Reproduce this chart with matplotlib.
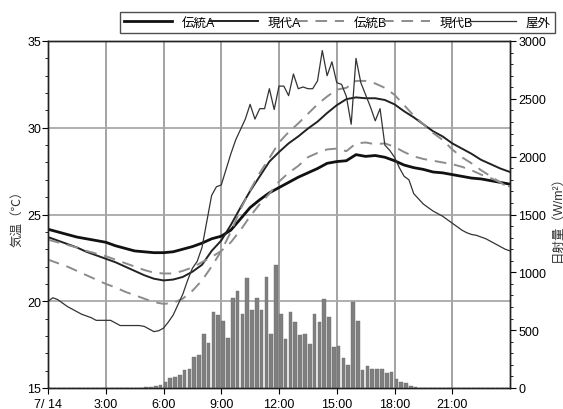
import matplotlib
matplotlib.use("Agg")
import matplotlib.pyplot as plt
import numpy as np
from matplotlib.ticker import MultipleLocator

plt.rcParams['font.family'] = ['Liberation Sans', 'Noto Sans CJK JP', 'DejaVu Sans']

# ---------------- data ----------------
# half-hourly room temperatures (hours 0..24)
hours_half = [i * 0.5 for i in range(49)]
dentou_a = [24.15, 24.0, 23.85, 23.7, 23.6, 23.5, 23.4, 23.2, 23.05, 22.9, 22.85, 22.8, 22.8,
            22.85, 23.0, 23.15, 23.35, 23.6, 23.75, 24.1, 24.75, 25.4, 25.85, 26.25, 26.55, 26.85,
            27.15, 27.4, 27.65, 27.95, 28.05, 28.1, 28.45, 28.35, 28.4, 28.3, 28.1, 27.85, 27.7,
            27.6, 27.45, 27.4, 27.3, 27.2, 27.1, 27.05, 26.95, 26.85, 26.75]
gendai_a = [23.7, 23.5, 23.3, 23.1, 22.85, 22.65, 22.45, 22.25, 22.0, 21.75, 21.5, 21.3, 21.2,
            21.25, 21.4, 21.7, 22.1, 22.9, 23.5, 24.4, 25.4, 26.35, 27.2, 28.05, 28.6, 29.1,
            29.5, 29.95, 30.35, 30.85, 31.3, 31.65, 31.75, 31.7, 31.7, 31.6, 31.35, 30.95, 30.6,
            30.2, 29.8, 29.5, 29.1, 28.8, 28.5, 28.15, 27.9, 27.65, 27.45]
dentou_b = [23.55, 23.4, 23.25, 23.1, 22.9, 22.75, 22.6, 22.4, 22.2, 22.0, 21.8, 21.65, 21.6,
            21.6, 21.75, 21.95, 22.25, 22.55, 22.9, 23.4, 24.1, 24.9, 25.6, 26.2, 26.9, 27.4,
            27.8, 28.3, 28.55, 28.75, 28.8, 28.65, 29.1, 29.15, 29.05, 29.1, 28.9, 28.6, 28.35,
            28.2, 28.1, 28.0, 27.9, 27.75, 27.55, 27.3, 27.1, 26.85, 26.6]
gendai_b = [22.4, 22.2, 22.0, 21.75, 21.5, 21.25, 21.0, 20.8, 20.55, 20.35, 20.15, 19.95, 19.85,
            19.9, 20.15, 20.6, 21.2, 22.0, 22.9, 24.0, 25.3, 26.4, 27.4, 28.25, 29.15, 29.75,
            30.25, 30.8, 31.35, 31.8, 32.2, 32.3, 32.7, 32.7, 32.55, 32.3, 31.9, 31.3, 30.7,
            30.2, 29.7, 29.3, 28.75, 28.3, 27.95, 27.55, 27.2, 26.85, 26.5]

# 15-minute outdoor temperature (hours 0..24)
hours_q = [i * 0.25 for i in range(97)]
outdoor = [20.0, 20.2, 20.1, 19.9, 19.7, 19.55, 19.4, 19.25, 19.15, 19.05, 18.9, 18.9, 18.9,
           18.9, 18.75, 18.6, 18.6, 18.6, 18.6, 18.6, 18.55, 18.4, 18.25, 18.3, 18.45, 18.8,
           19.2, 19.8, 20.4, 21.2, 21.9, 22.3, 23.1, 24.6, 26.1, 26.6, 26.7, 27.6, 28.5, 29.3,
           29.9, 30.5, 31.35, 30.5, 31.1, 31.1, 32.25, 31.05, 32.4, 32.4, 31.85, 33.1, 32.25,
           32.35, 32.25, 32.25, 32.7, 34.45, 33.0, 33.8, 32.6, 32.5, 31.8, 30.2, 34.0, 32.6,
           31.9, 31.2, 30.4, 31.1, 29.0, 28.7, 28.3, 27.7, 27.2, 27.0, 26.2, 25.9, 25.6, 25.4,
           25.2, 25.05, 24.9, 24.7, 24.5, 24.3, 24.1, 23.95, 23.85, 23.8, 23.7, 23.6, 23.45,
           23.3, 23.15, 23.0, 22.9]

# 15-minute solar radiation (interval start hours 0..23.75)
bar_start = [i * 0.25 for i in range(96)]
radiation = ([0] * 19 +
             [2, 5, 10, 15, 25,
              50, 84, 98, 112, 159, 160, 265, 286, 467, 386, 661, 633, 581, 432, 776, 836,
              640, 952, 675, 782, 678, 963, 467, 1065, 643, 424, 661, 568, 460, 470, 380, 643,
              568, 767, 618, 352, 366, 256, 199, 741, 580, 153, 187, 164, 164, 164, 129, 136,
              75, 50, 40, 20, 8, 3] +
             [0] * 18)

x_ticks = [0, 3, 6, 9, 12, 15, 18, 21]
x_labels = ['7/ 14', '3:00', '6:00', '9:00', '12:00', '15:00', '18:00', '21:00']
series_names = ['伝統A', '現代A', '伝統B', '現代B', '屋外']

# ---------------- figure ----------------
fig = plt.figure(figsize=(5.63, 4.10), dpi=100)
ax = fig.add_axes([48 / 563, 1 - 389 / 410, (510 - 48) / 563, (389 - 42) / 410])
ax_r = ax.twinx()

ax.set_xlim(0, 24)
ax.set_ylim(15, 35)
ax_r.set_ylim(0, 3000)

# grid
for xv in x_ticks[1:]:
    ax.axvline(xv, color='#8a8a8a', lw=1.1, zorder=0)
for yv in [20, 25, 30]:
    ax.axhline(yv, color='#a8a8a8', lw=1.3, zorder=0)

l1, = ax.plot(hours_half, dentou_a, color='#111111', lw=2.0, zorder=3)
l2, = ax.plot(hours_half, gendai_a, color='#222222', lw=1.4, zorder=3)
l3, = ax.plot(hours_half, dentou_b, color='#8c8c8c', lw=1.4, ls=(0, (6, 4)), zorder=3)
l4, = ax.plot(hours_half, gendai_b, color='#8c8c8c', lw=1.4, ls=(0, (6, 4)), zorder=3)
l5, = ax.plot(hours_q, outdoor, color='#333333', lw=0.9, zorder=3)

ax_r.bar(bar_start, radiation, width=0.19, align='edge', color='#7f7f7f',
         edgecolor='#6f6f6f', linewidth=0.3)

ax.set_xticks(x_ticks)
ax.set_xticklabels(x_labels, fontsize=9)
ax.yaxis.set_major_locator(MultipleLocator(5))
ax.yaxis.set_minor_locator(MultipleLocator(1))
ax_r.yaxis.set_major_locator(MultipleLocator(500))
ax_r.yaxis.set_minor_locator(MultipleLocator(100))
ax.tick_params(axis='y', labelsize=9, direction='out', length=4, pad=1)
ax.tick_params(axis='y', which='minor', length=2)
ax_r.tick_params(axis='y', labelsize=9, direction='out', length=4, pad=2)
ax_r.tick_params(axis='y', which='minor', length=2)
ax.tick_params(axis='x', direction='out', length=4, pad=3)

ax.set_ylabel('気温（℃）', fontsize=9, color='#333333', labelpad=3)
ax_r.set_ylabel('日射量（W/m²）', fontsize=9, color='#333333', labelpad=4)

for sp in list(ax.spines.values()) + list(ax_r.spines.values()):
    sp.set_linewidth(1.0)
    sp.set_color('#222222')

leg = fig.legend([l1, l2, l3, l4, l5], series_names, loc='lower left',
                 bbox_to_anchor=(120 / 563, 1 - 34 / 410, (555 - 120) / 563, 26 / 410),
                 mode='expand', ncol=5, fontsize=9, handlelength=3.8, handletextpad=0.8,
                 columnspacing=0.8, fancybox=False, edgecolor='#222222', borderpad=0.35,
                 borderaxespad=0)
leg.get_frame().set_linewidth(1.0)

fig.savefig('out.png', dpi=100)
